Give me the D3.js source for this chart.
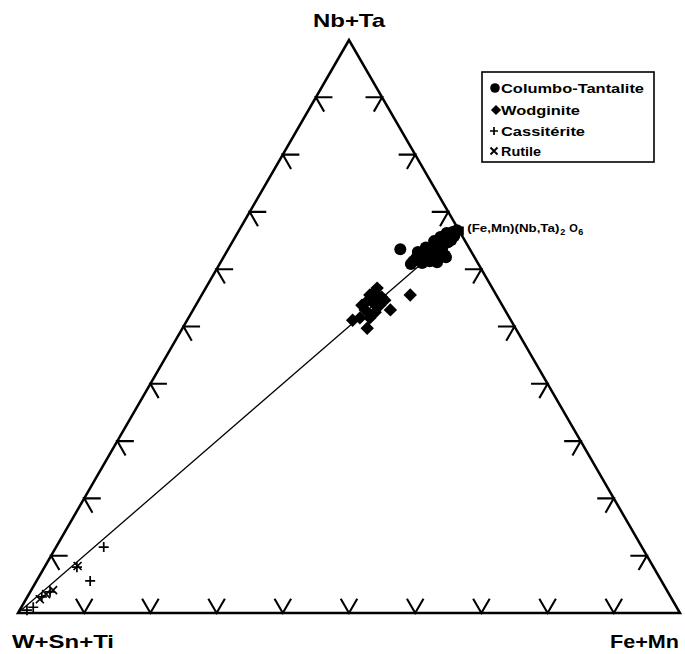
<!DOCTYPE html>
<html><head><meta charset="utf-8">
<script src="https://cdn.jsdelivr.net/npm/d3@7"></script>
<style>body{margin:0;background:#fff} svg{display:block}</style>
</head><body>
<svg id="chart" width="685" height="654"></svg>
<script>
// Vertex labels: top, bottom-left, bottom-right
const vertexLabels = ["Nb+Ta", "W+Sn+Ti", "Fe+Mn"];
const tickValues = [10, 20, 30, 40, 50, 60, 70, 80, 90];
const seriesNames = ["Columbo-Tantalite", "Wodginite", "Cassitérite", "Rutile"];

// Each point: [Nb+Ta, W+Sn+Ti, Fe+Mn] in %
const columboTantalite = [
  [66.8,0.3,32.9],[66.5,1.1,32.4],[65.9,1.8,32.3],[66.3,2.1,31.6],[65.4,2.7,31.9],
  [65.1,3.3,31.6],[65.6,3.4,31.0],[64.5,4.1,31.4],[64.2,4.8,31.0],[64.9,4.7,30.4],
  [63.7,5.6,30.7],[63.3,6.3,30.4],[63.8,6.5,29.7],[62.8,7.1,30.1],[62.4,7.9,29.7],
  [63.0,8.1,28.9],[61.9,8.9,29.2],[61.4,9.6,29.0],[61.6,8.5,29.9],[62.3,6.9,30.8],
  [63.0,5.5,31.5],[63.8,4.0,32.2],[64.7,2.7,32.6],[62.4,4.3,33.3],[62.1,5.2,32.7],
  [61.4,7.1,31.5],[61.1,8.5,30.5],[65.1,2.1,32.9],[65.8,1.3,33.0],[60.9,10.2,28.9],
  [61.9,7.7,30.4],[61.2,6.1,32.7],[62.1,4.3,33.6],[63.5,10.6,26.0]
];
const wodginite = [
  [51.1,23.9,25.0],[49.7,22.4,27.9],[52.9,17.4,29.8],[55.5,13.1,31.5],[54.1,19.3,26.6],
  [56.7,17.4,25.9],[55.5,19.1,25.4],[55.1,17.5,27.4],[52.9,21.2,26.0],[51.5,22.6,25.9],
  [52.5,19.8,27.7],[53.7,18.5,27.8],[54.6,19.8,25.6],[56.0,18.2,25.8],[53.7,21.2,25.1],
  [54.6,17.3,28.1],[51.5,21.1,27.4],[55.3,18.0,26.7]
];
const cassiterite = [
  [11.5,81.3,7.2],[5.6,86.3,8.1],[8.0,87.1,4.9],[3.7,93.3,3.0],[2.8,95.0,2.2],
  [1.0,97.2,1.8],[0.5,98.4,1.1]
];
const rutile = [
  [8.2,86.9,4.9],[3.3,94.1,2.6],[2.4,95.5,2.1],[4.0,92.7,3.3]
];
// Ideal composition (Fe,Mn)(Nb,Ta)2O6 : [Nb+Ta, W+Sn+Ti, Fe+Mn]
const idealPhase = [66.67, 0, 33.33];

const svg = d3.select("#chart");
const FONT = "'Liberation Sans', Arial, Helvetica, sans-serif";

// cartesian ternary coordinate u = Fe+Mn + (Nb+Ta)/2 ; v = Nb+Ta
const x = d3.scaleLinear().domain([0, 100]).range([18, 680]);
const y = d3.scaleLinear().domain([0, 100]).range([613, 40]);
const px = d => x(d[2] + d[0] / 2);
const py = d => y(d[0]);
const line = d3.line().x(px).y(py);

// triangle
const verts = [[100,0,0],[0,100,0],[0,0,100]];
svg.append("path")
  .attr("d", line(verts) + "Z")
  .attr("fill", "none").attr("stroke", "#000").attr("stroke-width", 2.5)
  .attr("stroke-linejoin", "miter");

// ticks
const L = 2.5; // arm length in %
const tickG = svg.append("g").attr("stroke", "#000").attr("stroke-width", 2.1).attr("fill", "none");
tickValues.forEach(k => {
  tickG.append("path").attr("d", line([[L, 100-k-L, k], [0, 100-k, k], [L, 100-k, k-L]]));
  tickG.append("path").attr("d", line([[k, 100-k-L, L], [k, 100-k, 0], [k-L, 100-k, L]]));
  tickG.append("path").attr("d", line([[k, L, 100-k-L], [k, 0, 100-k], [k-L, L, 100-k]]));
});

// mixing line from W+Sn+Ti vertex to ideal composition
svg.append("path").attr("d", line([[0,100,0], idealPhase]))
  .attr("stroke", "#000").attr("stroke-width", 1.3).attr("fill", "none");

// markers
const g = svg.append("g");
g.selectAll("circle.ct").data(columboTantalite).join("circle")
  .attr("cx", px).attr("cy", py).attr("r", 6).attr("fill", "#000");
const diamond = d3.symbol(d3.symbolSquare, 90)();
g.selectAll("path.wd").data(wodginite).join("path")
  .attr("d", diamond)
  .attr("transform", d => `translate(${px(d)},${py(d)}) rotate(45)`)
  .attr("fill", "#000");
const plusPath = "M-5,0H5M0,-5V5";
const crossPath = "M-4,-4L4,4M-4,4L4,-4";
g.selectAll("path.cs").data(cassiterite).join("path")
  .attr("d", plusPath).attr("transform", d => `translate(${px(d)},${py(d)})`)
  .attr("stroke", "#000").attr("stroke-width", 1.7).attr("fill", "none");
g.selectAll("path.rt").data(rutile).join("path")
  .attr("d", crossPath).attr("transform", d => `translate(${px(d)},${py(d)})`)
  .attr("stroke", "#000").attr("stroke-width", 1.7).attr("fill", "none");
svg.append("rect").attr("x", px(idealPhase) - 4.5).attr("y", py(idealPhase) - 4.5)
  .attr("width", 9).attr("height", 9).attr("fill", "#000");

// ideal phase label
const lx = px(idealPhase) + 8, ly = py(idealPhase) + 1;
const tAttr = s => s.attr("font-family", FONT).attr("font-weight", "bold");
tAttr(svg.append("text")).attr("x", lx).attr("y", ly).attr("font-size", 11)
  .attr("textLength", 92).attr("lengthAdjust", "spacingAndGlyphs").text("(Fe,Mn)(Nb,Ta)");
tAttr(svg.append("text")).attr("x", lx + 93).attr("y", ly + 3).attr("font-size", 9).text("2");
tAttr(svg.append("text")).attr("x", lx + 102).attr("y", ly).attr("font-size", 11).text("O");
tAttr(svg.append("text")).attr("x", lx + 111).attr("y", ly + 3).attr("font-size", 9).text("6");

// vertex labels
const vl = svg.append("g").attr("font-family", FONT).attr("font-weight", "bold").attr("font-size", 19);
vl.append("text").attr("x", px(verts[0])).attr("y", 27).attr("text-anchor", "middle")
  .attr("textLength", 72).attr("lengthAdjust", "spacingAndGlyphs").text(vertexLabels[0]);
vl.append("text").attr("x", 12).attr("y", 648).attr("text-anchor", "start")
  .attr("textLength", 102).attr("lengthAdjust", "spacingAndGlyphs").text(vertexLabels[1]);
vl.append("text").attr("x", 610).attr("y", 648).attr("text-anchor", "start")
  .attr("textLength", 69).attr("lengthAdjust", "spacingAndGlyphs").text(vertexLabels[2]);

// legend
const lg = svg.append("g").attr("transform", "translate(482,72)");
lg.append("rect").attr("width", 172).attr("height", 90).attr("fill", "#fff")
  .attr("stroke", "#000").attr("stroke-width", 1.6);
const rowY = [16, 38, 59, 79];
const textLen = [143, 79, 84, 40];
const lgItems = lg.selectAll("g").data(seriesNames).join("g")
  .attr("transform", (d, i) => `translate(0,${rowY[i]})`);
lgItems.append("text").attr("x", 19).attr("y", 5)
  .attr("font-family", FONT).attr("font-weight", "bold").attr("font-size", 13)
  .attr("textLength", (d, i) => textLen[i]).attr("lengthAdjust", "spacingAndGlyphs")
  .text(d => d);
lgItems.each(function(d, i) {
  const s = d3.select(this);
  if (i === 0) s.append("circle").attr("cx", 13).attr("cy", 0).attr("r", 4.8).attr("fill", "#000");
  if (i === 1) s.append("path").attr("d", d3.symbol(d3.symbolSquare, 52)()).attr("transform", "translate(14,0) rotate(45)").attr("fill", "#000");
  if (i === 2) s.append("path").attr("d", "M-4,0H4M0,-4V4").attr("transform", "translate(12,0)").attr("stroke", "#000").attr("stroke-width", 1.7);
  if (i === 3) s.append("path").attr("d", "M-3.5,-3.5L3.5,3.5M-3.5,3.5L3.5,-3.5").attr("transform", "translate(12,0)").attr("stroke", "#000").attr("stroke-width", 1.9);
});
</script>
</body></html>
